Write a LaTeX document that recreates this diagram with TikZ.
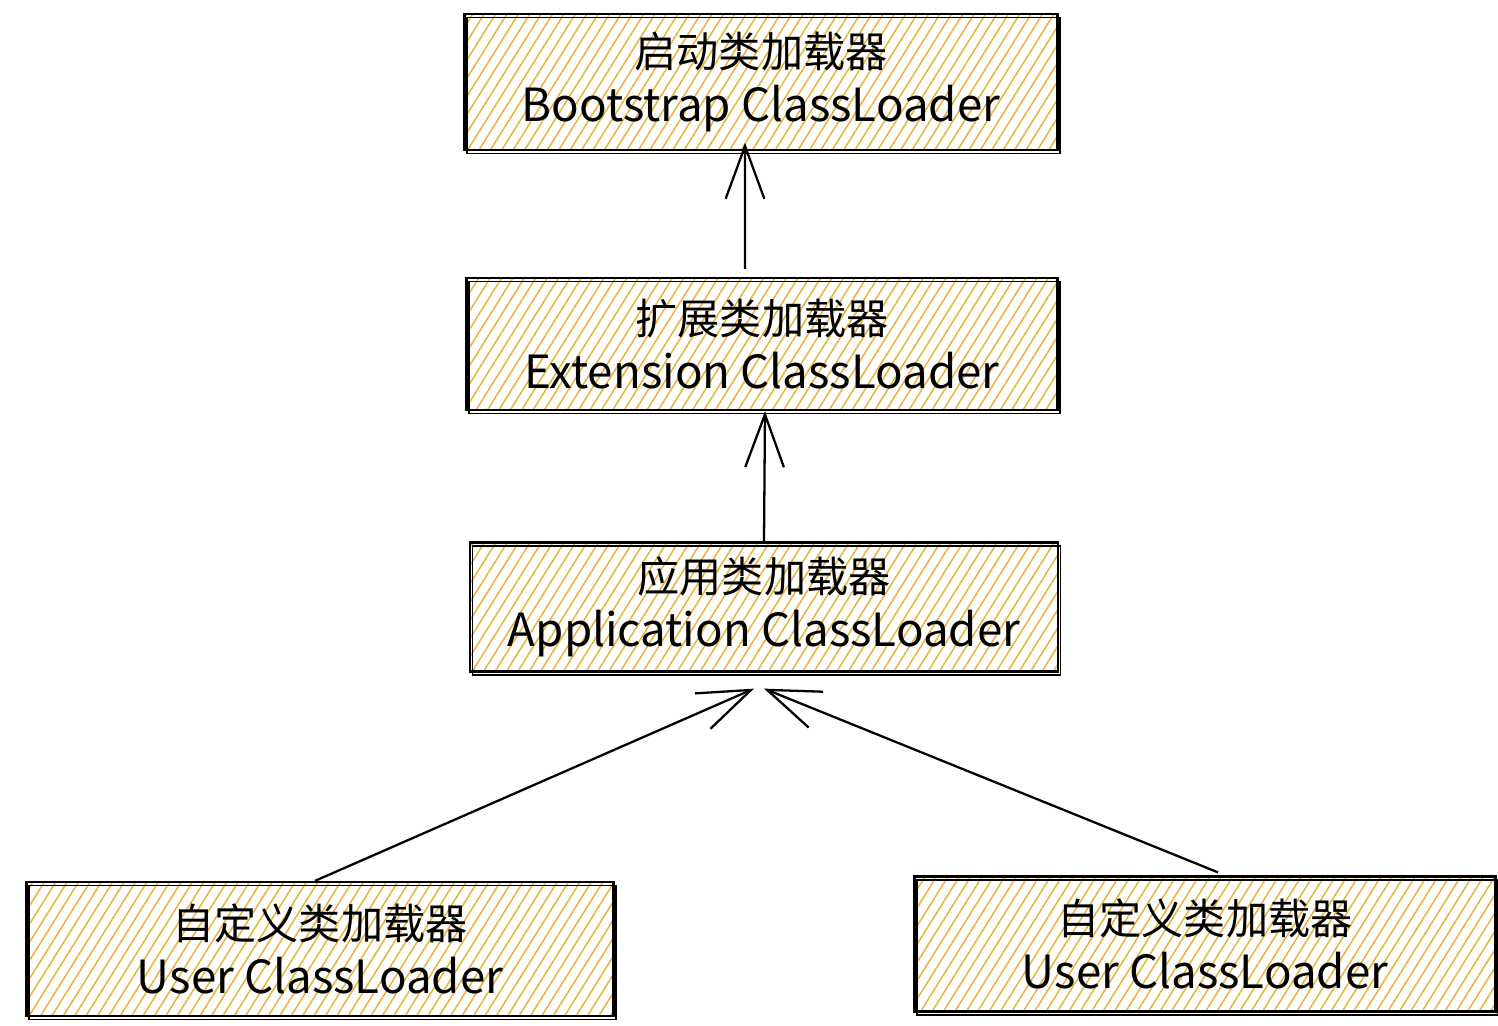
\documentclass[tikz,border=0pt]{standalone}
\usepackage{fontspec}
\setmainfont{Noto Sans CJK SC}
\usetikzlibrary{arrows.meta,patterns.meta}
\definecolor{hatch}{HTML}{E8B33A}
\tikzstyle{loaderbox} = [draw=black,line width=1.3pt,rectangle,
  pattern={Lines[angle=58,distance=5.5pt,line width=0.85pt]},pattern color=hatch,
  postaction={draw,line width=0.9pt,transform canvas={xshift=1.5pt,yshift=-2pt}},
  align=center,inner sep=0pt,font=\fontsize{24}{31}\selectfont]
\tikzstyle{parentarrow} = [line width=1.3pt,-{Straight Barb[length=30pt,width=22pt]}]

\begin{document}
\begin{tikzpicture}[x=0.02cm,y=-0.02cm]
    \useasboundingbox (0,0) rectangle (1498,1026);
    \node [loaderbox, minimum width=11.86cm, minimum height=2.72cm] (boot) at (761,82) {%
      启动类加载器\\ {\fontsize{26}{31}\selectfont Bootstrap ClassLoader}};
    \node [loaderbox, minimum width=11.82cm, minimum height=2.64cm] (ext) at (762,344) {%
      扩展类加载器\\ {\fontsize{26}{31}\selectfont Extension ClassLoader}};
    \node [loaderbox, minimum width=11.76cm, minimum height=2.58cm] (app) at (764,607) {%
      应用类加载器\\ {\fontsize{26}{31}\selectfont Application ClassLoader}};
    \node [loaderbox, minimum width=11.74cm, minimum height=2.68cm] (userL) at (320,949) {%
      自定义类加载器\\ {\fontsize{26}{31}\selectfont User ClassLoader}};
    \node [loaderbox, minimum width=11.62cm, minimum height=2.7cm] (userR) at (1205,944) {%
      自定义类加载器\\ {\fontsize{26}{31}\selectfont User ClassLoader}};
    % parent delegation
    \draw [parentarrow] ([xshift=-0.34cm,yshift=0.16cm]ext.north) -- ([xshift=-0.32cm,yshift=0.16cm]boot.south);
    \draw [parentarrow] (app.north) -- ([xshift=0.06cm]ext.south);
    \draw [parentarrow] ([xshift=-0.1cm]userL.north) -- ([xshift=-0.2cm,yshift=-0.32cm]app.south);
    \draw [parentarrow] ([xshift=0.26cm,yshift=0.06cm]userR.north) -- ([xshift=0.0cm,yshift=-0.32cm]app.south);
  \end{tikzpicture}
\end{document}
